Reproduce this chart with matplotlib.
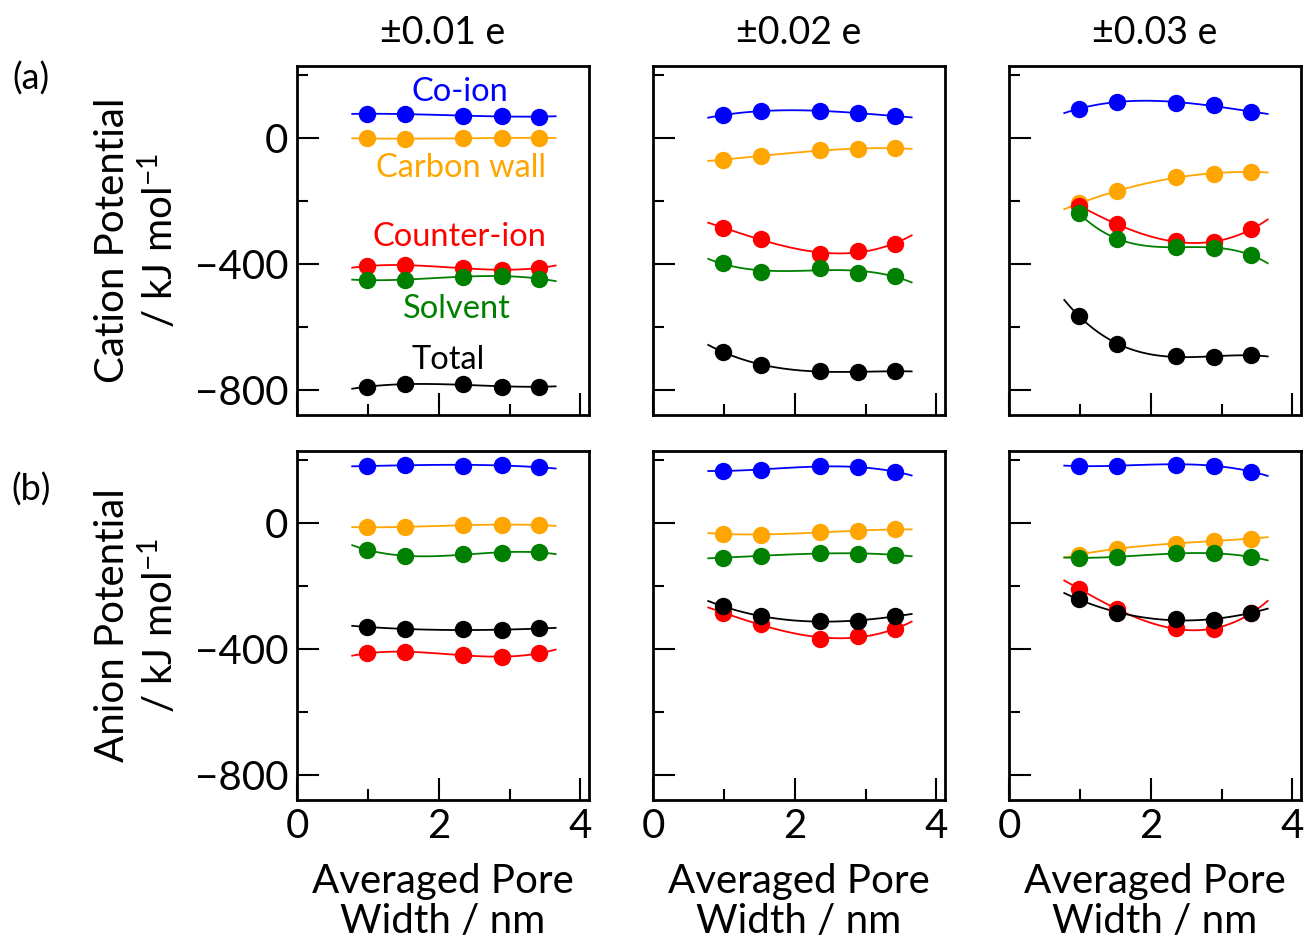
import numpy as np
import matplotlib.pyplot as plt

plt.rcParams['font.family'] = ['Lato', 'DejaVu Sans']
plt.rcParams['mathtext.fontset'] = 'custom'
plt.rcParams['mathtext.rm'] = 'Lato'
plt.rcParams['mathtext.default'] = 'regular'

# averaged pore width (nm)
width = [0.99, 1.52, 2.35, 2.89, 3.41]
charges = ['±0.01 e', '±0.02 e', '±0.03 e']
species = ['Co-ion', 'Carbon wall', 'Counter-ion', 'Solvent', 'Total']
colors = ['blue', 'orange', 'red', 'green', 'black']

# cation potential, one list per charge level
cat_coion = [[76, 76, 69, 69, 67], [72, 85, 85, 79, 69], [92, 115, 111, 103, 83]]
cat_wall = [[-2, -3, -1, -1, 0], [-69, -58, -40, -35, -33], [-208, -170, -125, -114, -108]]
cat_counter = [[-407, -405, -413, -420, -413], [-286, -321, -368, -360, -336], [-215, -275, -328, -331, -291]]
cat_solvent = [[-452, -450, -441, -439, -447], [-399, -425, -413, -429, -439], [-240, -320, -347, -349, -372]]
cat_total = [[-790, -783, -783, -790, -790], [-680, -720, -741, -744, -741], [-566, -654, -693, -696, -690]]

# anion potential
an_coion = [[180, 184, 182, 184, 176], [165, 169, 180, 176, 163], [180, 182, 185, 182, 163]]
an_wall = [[-14, -13, -7, -6, -7], [-35, -37, -30, -25, -21], [-101, -82, -66, -57, -50]]
an_counter = [[-414, -410, -419, -426, -414], [-286, -321, -368, -359, -338], [-209, -275, -333, -338, -287]]
an_solvent = [[-85, -106, -98, -96, -93], [-110, -106, -95, -99, -101], [-111, -108, -97, -97, -108]]
an_total = [[-330, -338, -338, -341, -335], [-265, -296, -313, -310, -297], [-243, -285, -306, -308, -285]]

rows = [[cat_coion, cat_wall, cat_counter, cat_solvent, cat_total],
        [an_coion, an_wall, an_counter, an_solvent, an_total]]
ylabels = ['Cation Potential\n/ kJ mol$^{-1}$', 'Anion Potential\n/ kJ mol$^{-1}$']

# label positions in panel (a) +-0.01
lab_x = [2.30, 2.32, 2.29, 2.26, 2.13]
lab_y = [146, -95, -314, -543, -705]

fig = plt.figure(figsize=(13.07, 9.44), dpi=100)
lefts = [0.2272, 0.4996, 0.772]
bottoms = [0.5604, 0.1525]
w, h = 0.2234, 0.3697

for r in range(2):
    for c in range(3):
        ax = fig.add_axes([lefts[c], bottoms[r], w, h])
        for k in range(5):
            y = rows[r][k][c]
            coef = np.polyfit(width, y, 3)
            # a few fits in the reference start at the first point
            x0 = 0.95 if (r == 0 and c == 2 and k in (2, 3)) else 0.78
            xs = np.linspace(x0, 3.65, 100)
            ax.plot(xs, np.polyval(coef, xs), color=colors[k], lw=1.3, zorder=2)
            ax.plot(width, y, 'o', color=colors[k], ms=11.5, zorder=3)
        ax.set_xlim(0, 4.12)
        ax.set_ylim(-880, 228)
        ax.set_xticks([0, 2, 4])
        ax.set_xticks([1, 3], minor=True)
        ax.set_yticks([-800, -400, 0])
        ax.set_yticks([-600, -200, 200], minor=True)
        ax.tick_params(which='both', direction='in', width=1.5, top=False, right=False)
        ax.tick_params(which='major', length=16, labelsize=29, pad=6)
        ax.tick_params(which='minor', length=8)
        for s in ax.spines.values():
            s.set_linewidth(2)
        if c > 0:
            ax.set_yticklabels([])
        else:
            ax.set_ylabel(ylabels[r], fontsize=29, linespacing=1.2)
            ax.yaxis.set_label_coords(-0.40, 0.5)
        if r == 0:
            ax.set_xticklabels([])
            ax.set_title(charges[c], fontsize=27, pad=16)
        else:
            ax.set_xlabel('Averaged Pore\nWidth / nm', fontsize=29, labelpad=13, linespacing=1.08)
        if r == 0 and c == 0:
            for k in range(5):
                ax.text(lab_x[k], lab_y[k], species[k], color=colors[k], fontsize=23.5,
                        ha='center', va='center')

fig.text(0.024, 0.917, '(a)', fontsize=26, ha='center', va='center')
fig.text(0.024, 0.481, '(b)', fontsize=26, ha='center', va='center')

fig.savefig('out.png', dpi=100)
